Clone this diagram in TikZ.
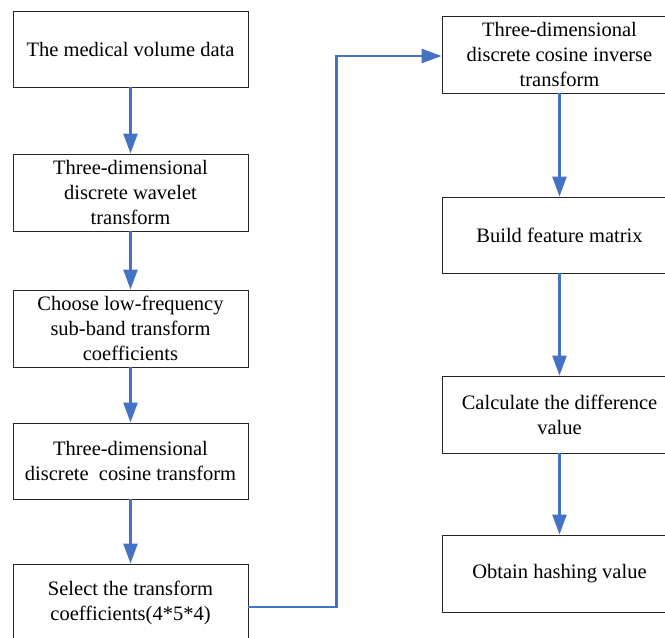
\documentclass[tikz,border=0pt]{standalone}
\usepackage{fontspec}
\setmainfont{Liberation Serif}
\usetikzlibrary{arrows.meta}
\definecolor{arrblue}{HTML}{4472C4}
\begin{document}
\begin{tikzpicture}[x=1pt,y=-1pt,
  box/.style={draw=black!85,line width=0.9pt,minimum width=235pt,minimum height=77pt,inner sep=0pt,align=center,font=\fontsize{20.5}{25}\selectfont},
  arr/.style={draw=arrblue,line width=2.5pt,-{Triangle[length=20pt,width=14pt]}}]
\useasboundingbox (0,0) rectangle (665,638);
\fill[white] (0,0) rectangle (665,638);
\clip (0,0) rectangle (665,638);
\node[box,minimum height=76pt] (b1) at (130.5,49) {The medical volume data};
\node[box] (b2) at (130.5,192.5) {Three-dimensional\\discrete wavelet\\transform};
\node[box] (b3) at (130.5,328.5) {Choose low-frequency\\sub-band transform\\coefficients};
\node[box,minimum height=76pt] (b4) at (130.5,461) {Three-dimensional\\discrete\ \ cosine transform};
\node[box] (b5) at (130.5,602.5) {Select the transform\\coefficients(4*5*4)};
\node[box] (b6) at (559.5,54.5) {Three-dimensional\\discrete cosine inverse\\transform};
\node[box,minimum height=76pt] (b7) at (559.5,235) {Build feature matrix};
\node[box] (b8) at (559.5,414.5) {Calculate the difference\\value};
\node[box] (b9) at (559.5,573.5) {Obtain hashing value};
\draw[arr] (b1) -- (b2);
\draw[arr] (b2) -- (b3);
\draw[arr] (b3) -- (b4);
\draw[arr] (b4) -- (b5);
\draw[arr] ([yshift=-4.5pt]b5.east) -- ++(88,0) |- ([yshift=-1.5pt]b6.west);
\draw[arr] (b6) -- (b7);
\draw[arr] (b7) -- (b8);
\draw[arr] (b8) -- (b9);
\end{tikzpicture}
\end{document}
